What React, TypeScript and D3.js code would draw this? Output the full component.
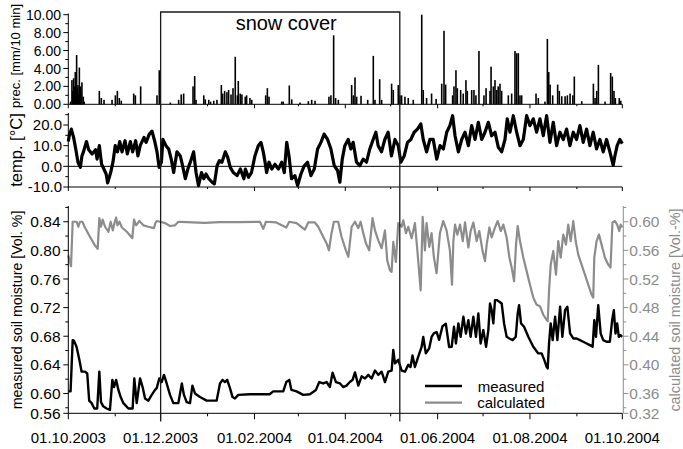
import React from 'react';
import * as d3 from 'd3';

// ---------- data ----------
const startLabel = '01.10.2003';
const endLabel = '01.10.2004';
const xTickLabels = ['01.10.2003', '01.12.2003', '01.02.2004', '01.04.2004', '01.06.2004', '01.08.2004', '01.10.2004'];
const snowCover = ['01.12.2003', '07.05.2004'];

const precTicks = [0, 2, 4, 6, 8, 10];
const precMinor = [1, 3, 5, 7, 9];
const tempTicks = [-10, 0, 10, 20];
const tempMinor = [-5, 5, 15, 25];
const measTicks = [0.56, 0.6, 0.64, 0.68, 0.72, 0.76, 0.8, 0.84];
const measMinor = [0.58, 0.62, 0.66, 0.7, 0.74, 0.78, 0.82, 0.86];
const calcTicks = [0.32, 0.36, 0.4, 0.44, 0.48, 0.52, 0.56, 0.6];
const calcMinor = [0.34, 0.38, 0.42, 0.46, 0.5, 0.54, 0.58, 0.62];

// precipitation [mm/10 min]; day = days after 01.10.2003
const precDay = [1.5, 2.4, 3, 3.5, 4, 4.6, 5, 5.5, 6, 6.4, 7, 7.3, 8, 8.2, 8.6, 9, 9.9, 10.5,
  20.5, 21.8, 23.6, 28.9, 31.1, 32.4, 33.7, 35, 43.2, 44.3, 47.8, 58.6, 60.1, 67.4, 72.9, 74.6, 76.2,
  82.4, 83.5, 84.4, 89.5, 90.5, 92.8, 94, 96.1, 98.2, 101.1, 102, 103.3, 104.8, 105.9, 107.5, 108.8,
  110.3, 111.7, 112.3, 113.6, 114.7, 116.9, 117.8, 120, 121.2, 130.4, 131.5, 132.6, 141, 142, 146,
  147.6, 153.1, 158.6, 160.8, 163, 172.2, 173.5, 175.3, 176.6, 178.4, 187.2, 188.3, 189.4, 190.5,
  193.4, 197.8, 201.5, 202.6, 205.7, 207, 213.6, 214.7, 218, 219.1, 220.2, 222.4, 224.6, 227.9,
  233.5, 234.5, 236.7, 240, 243, 246.7, 248.2, 249.3, 253.9, 254.8, 256.1, 257, 259.2, 260.9, 262.7,
  263.6, 266.5, 268, 269.3, 271.3, 274.6, 276, 278.6, 279.3, 280.8, 281.9, 283, 284, 285.2, 286.3,
  290.7, 292.9, 295.1, 296.2, 297.3, 298.4, 299.5, 309, 310.5, 314.9, 316.5, 317.4, 318.3, 320,
  323.3, 324.4, 326, 328.2, 329.7, 331.5, 333.3, 334.3, 339.2, 346.9, 348, 349.1, 350.2, 354.6,
  358.3, 359.4, 360.5, 361.4, 364, 365];
const precMm = [0.3, 2.7, 1.5, 2.9, 2.0, 3.6, 1.0, 5.5, 1.8, 2.15, 1.2, 4.1, 2.0, 1.4, 1.0, 2.45, 0.85, 0.3,
  1.5, 0.7, 0.5, 0.5, 1.0, 1.5, 0.7, 0.4, 1.2, 1.0, 2.0, 1.0, 3.8, 0.2, 0.5, 1.1, 1.2,
  2.0, 3.15, 0.5, 1.0, 0.55, 0.5, 0.3, 0.4, 0.5, 2.15, 1.2, 1.5, 1.35, 1.6, 1.1, 1.8,
  5.3, 1.0, 2.6, 1.2, 1.1, 0.85, 1.0, 0.7, 0.5, 1.0, 1.8, 0.85, 0.3, 0.3, 2.1,
  0.55, 0.2, 0.35, 0.5, 0.4, 0.85, 1.0, 7.7, 0.7, 0.5, 2.15, 1.0, 3.0, 0.85,
  0.95, 0.5, 5.4, 0.5, 2.8, 0.5, 2.3, 1.6, 2.15, 1.0, 1.0, 0.85, 0.7, 0.5,
  10.0, 1.6, 0.7, 1.2, 0.6, 2.3, 8.2, 2.2, 1.0, 2.0, 3.8, 1.8, 1.6, 1.2, 2.7,
  1.5, 1.6, 1.6, 1.0, 5.95, 1.0, 1.8, 1.5, 4.2, 2.0, 2.7, 1.6, 2.0, 2.3, 1.5,
  1.0, 1.2, 5.95, 5.7, 5.7, 1.0, 1.0, 1.2, 0.7, 0.3, 7.3, 3.6, 2.2, 1.0,
  2.2, 1.5, 0.9, 0.9, 1.0, 1.2, 1.0, 3.1, 0.35, 2.3, 0.7, 1.5, 4.4, 0.3,
  3.5, 3.1, 1.5, 0.7, 0.7, 0.4];

// air temperature [°C]
const tempDay = [0, 0.7, 2, 3.5, 5, 6.4, 8, 9, 10, 12, 13.5, 15.7, 18, 19, 20.5, 22, 23.5, 25, 26, 28, 29.5,
  31, 32.5, 34, 35.5, 37.5, 39, 41, 42.5, 44.5, 46, 47.5, 50, 51.4, 53.5, 55.3, 57, 58.6, 60, 61.5,
  62.5, 64.5, 66.3, 68, 69.6, 71.8, 74, 75.5, 77.3, 79, 81.3, 82.8, 84.4, 86, 88, 89.5, 91, 92.8, 95,
  96.5, 98.3, 99.8, 101.5, 103.7, 105.3, 107, 109, 111.5, 113.7, 116, 117, 119, 121, 123.3, 125.5,
  127.3, 128.8, 130, 131, 132.6, 134.4, 136.5, 138.8, 141, 142.7, 144.3, 145.8, 147.5, 149.7, 151.5,
  153.7, 155.9, 158, 160.3, 162.5, 164.7, 166.9, 169, 171.3, 173.5, 175.7, 177.9, 179.4, 181, 182.7,
  184.9, 186.7, 188.2, 190.4, 192.6, 194.8, 197, 199.2, 201.4, 203.2, 204.7, 206.9, 209.1, 211.3,
  213.5, 215.8, 218, 219.7, 221.9, 224.1, 226.3, 228.5, 230.7, 232.9, 234.5, 236.7, 238.9, 241.1,
  243.4, 245.6, 247.8, 250, 252.1, 253.9, 255.5, 257.7, 259.9, 262.1, 264.3, 266.5, 268.7, 270.9,
  273.1, 275.3, 277.5, 279.7, 281.9, 284.1, 286.3, 288.5, 290, 291.8, 294, 296.2, 298.4, 300.6,
  302.8, 305, 307.2, 309.4, 311.6, 313.8, 316, 318.2, 320.4, 322.6, 324.8, 327, 329.2, 331.4, 333.6,
  335.8, 338, 340.2, 342.4, 344.6, 346.8, 349, 351.2, 353.4, 355.6, 357.8, 360, 361.1, 362.6, 364.4, 366];
const tempC = [12, 15, 18, 14, 8, 2, -0.5, 5, 7, 12, 8, 6, 8, 3.5, 10, 1, -1.3, -3.7, -8, -3, 2,
  10, 7, 12, 7, 12.4, 6, 12, 7, 12.4, 5, 10, 14, 11.6, 15.6, 17, 12.4, 7, -0.5, 2,
  13, 10, 8.4, 3.5, -3, 7, 5, 0.3, -6, -1.3, 3.5, 7, -3, -9.3, -3, -6, -3.7, -6, -7.7,
  -8.5, 0.3, 2.7, 2, 7, 4.4, -0.5, -3, -4.5, -1.3, -6, -1.3, -5.3, -3, 5, 10,
  11.6, 7, 2, -3, 2, -1.3, 1, -1.3, 2, -3, 11.6, 5, -6, -4.5, -9.3,
  -3.7, 0.3, 2, -4.5, -1.3, 8.4, 11.6, 15.6, 13, 8.4, 0.3, -2, -7.7, 3.5, 10,
  13, 8.4, 11.6, 2, 0.3, 3.5, 2, 8.4, 13, 16.5, 10, 7, 13, 16.5,
  5, 13, 10, 2, 5, 11.6, 13, 16.5, 18, 20.5, 13, 7, 13, 13,
  3.5, 10, 8.4, 16.5, 19.7, 24.5, 14.8, 7, 13, 16.5, 10, 19.7, 13, 21.3,
  13, 16.5, 21.3, 14.8, 16.5, 9.2, 7, 13, 23, 16.5, 24.5, 16.5, 10, 13,
  24.5, 19.7, 23, 16.5, 23, 14.8, 24.5, 11.6, 21.3, 10, 16.5, 13, 18, 10, 16.5,
  13, 19.7, 11.6, 18, 10, 16.5, 8.4, 13, 7, 13, 7, 0.5, 5, 10, 13, 11];

// measured soil moisture [Vol. %]
const measDay = [0, 1.5, 2.9, 3.8, 5.5, 7.3, 8.8, 11, 12.5, 13.8, 15.4, 17.2, 19.1, 20.5, 21.6, 23.1, 25.3,
  27.5, 29.1, 30.2, 31.6, 33.1, 34.6, 36.4, 39.7, 42.5, 43.6, 45.2, 47.4, 49.1, 50.7, 52.9, 55.1, 57.3,
  58.4, 60.1, 61.7, 63.2, 65, 67.2, 69.4, 72.7, 75, 76.4, 78.2, 80.4, 82, 83.7, 87, 91.4, 95.8, 98,
  100.2, 101.9, 103.5, 105, 106.8, 108.5, 110.1, 112.3, 120, 133, 135.4, 142, 144, 146, 147.4, 150.8,
  155.2, 159.6, 163.6, 165.8, 168.4, 170.6, 172.8, 174.6, 176.8, 179.5, 181.6, 183.8, 186, 187.8,
  189.4, 191.6, 193.8, 196, 198.2, 200.4, 202.6, 204.8, 207, 209.2, 211.4, 213.6, 214.7, 215.8, 218,
  220.2, 222.4, 224.6, 226.1, 227.4, 229, 231.2, 233.4, 234.5, 236.2, 238.4, 240, 241.5, 243.3, 245,
  247.2, 249.4, 251.6, 253.3, 254.8, 256.1, 257.7, 259.2, 261, 262.7, 264.3, 265.8, 267.6, 269.3,
  270.9, 272.4, 274.2, 276, 277.5, 278.6, 279.7, 280.8, 281.9, 283, 284.8, 286.3, 287.9, 289.6, 291.4,
  293.6, 295.6, 296.9, 297.8, 299.1, 301.1, 303.9, 307.2, 310.5, 312.7, 314.5, 316, 316.7, 317.6,
  318.7, 320, 321.6, 323.1, 324.9, 326.4, 328.2, 329.7, 331.5, 333.6, 335.8, 338, 340.2, 342.4,
  344.6, 346.4, 347.5, 348.6, 350.1, 351.7, 353.4, 355.6, 357.8, 359.3, 360.4, 361.5, 362.6, 363.7,
  364.8, 365.9];
const measVal = [0.603, 0.603, 0.6745, 0.6735, 0.665, 0.647, 0.6305, 0.6305, 0.628, 0.59, 0.5865, 0.579, 0.579,
  0.6305, 0.588, 0.582, 0.579, 0.577, 0.619, 0.609, 0.619, 0.605, 0.595, 0.5865, 0.579, 0.579, 0.621,
  0.5865, 0.621, 0.609, 0.593, 0.59, 0.598, 0.605, 0.6075, 0.621, 0.616, 0.626, 0.614, 0.598, 0.5865,
  0.5865, 0.614, 0.598, 0.588, 0.5865, 0.611, 0.6, 0.595, 0.59, 0.59, 0.59, 0.614, 0.619, 0.616, 0.619,
  0.6075, 0.595, 0.593, 0.598, 0.599, 0.599, 0.603, 0.603, 0.616, 0.619, 0.605, 0.603, 0.598, 0.599,
  0.605, 0.616, 0.614, 0.616, 0.609, 0.629, 0.616, 0.614, 0.609, 0.611, 0.616, 0.619, 0.6295, 0.611,
  0.624, 0.621, 0.626, 0.621, 0.632, 0.626, 0.6305, 0.616, 0.6305, 0.632, 0.661, 0.642, 0.647, 0.632,
  0.6305, 0.64, 0.637, 0.653, 0.637, 0.6515, 0.665, 0.679, 0.656, 0.663, 0.679, 0.684, 0.686, 0.675,
  0.694, 0.6975, 0.665, 0.6653, 0.6932, 0.6699, 0.6979, 0.6792, 0.7072, 0.6839, 0.7025, 0.6792, 0.7072,
  0.6792, 0.7119, 0.6699, 0.6886, 0.6653, 0.6886, 0.7258, 0.7165, 0.6979, 0.7305, 0.7305, 0.7282,
  0.7258, 0.6979, 0.6792, 0.6769, 0.6746, 0.6792, 0.7119, 0.7235, 0.6979, 0.6932, 0.6792, 0.6653,
  0.656, 0.656, 0.6466, 0.6373, 0.635, 0.6699, 0.6979, 0.6746, 0.7072, 0.6746, 0.7212, 0.6792, 0.7165,
  0.7212, 0.6839, 0.6769, 0.6769, 0.6746, 0.6723, 0.6699, 0.6676, 0.6653, 0.7025, 0.6792, 0.7235,
  0.6839, 0.6746, 0.6723, 0.6723, 0.7025, 0.7165, 0.6839, 0.6979, 0.6792, 0.6816, 0.6792];

// calculated soil moisture [Vol.-%]
const calcDay = [0, 1, 1.8, 2.9, 5.5, 6.6, 7.7, 9.3, 11, 14.3, 17.6, 19.4, 20.5, 21.6, 22.7, 24.3, 26.5, 28,
  29.4, 30.5, 31.6, 32.5, 33.8, 35.4, 38.7, 42.3, 43.4, 44.8, 47, 49.6, 52.9, 56.6, 57.5, 58.4, 60.6,
  64, 67.2, 70.5, 72.7, 78, 90, 100, 113, 126.6, 128.8, 130.6, 137.4, 144, 146, 150.8, 156.3, 158.5,
  162.9, 165.1, 168.4, 170.6, 172.2, 173.9, 175.5, 178.3, 180.5, 183.4, 185, 187.2, 189.4, 191.6, 193.1,
  194.9, 196.6, 198.8, 201, 202.6, 204.8, 207, 209.2, 210.7, 212.5, 213.6, 214.7, 216.4, 218, 220.2,
  221.3, 223.1, 224.6, 226.8, 229, 230.6, 232.8, 234.1, 235.6, 236.7, 238.5, 240, 241.5, 243.3, 245.5,
  247.7, 249.9, 252.1, 253.5, 254.4, 255.5, 257, 258.8, 260.6, 262.1, 264.3, 265.8, 267.6, 269.8,
  271.5, 273.7, 275.3, 276.4, 278.2, 279.7, 281.9, 283.7, 285.7, 287.4, 289.6, 291.4, 292.9, 294.5,
  295.8, 296.9, 298.4, 300.6, 302.8, 305, 307.2, 309.4, 311.6, 313.8, 316, 316.7, 317.6, 318.7, 320.4,
  322.2, 323.7, 325.3, 327, 328.8, 330.3, 331.9, 333.6, 335.2, 336.9, 339.1, 341.3, 343.5, 345.7,
  346.8, 347.5, 349, 350.6, 352.3, 354.5, 356.7, 358.2, 359.5, 361.1, 362.6, 364, 364.9, 365.9];
const calcVal = [0.553, 0.544, 0.538, 0.6, 0.6, 0.593, 0.6, 0.6, 0.592, 0.579, 0.567, 0.562, 0.605, 0.593,
  0.603, 0.593, 0.586, 0.6, 0.588, 0.598, 0.606, 0.595, 0.6, 0.592, 0.586, 0.577, 0.603, 0.595, 0.601,
  0.595, 0.593, 0.591, 0.598, 0.601, 0.6, 0.598, 0.594, 0.595, 0.6, 0.5995, 0.5985, 0.5995, 0.5995,
  0.6, 0.59, 0.6, 0.599, 0.592, 0.6, 0.598, 0.589, 0.599, 0.599, 0.593, 0.579, 0.57, 0.56, 0.584, 0.6,
  0.6, 0.579, 0.56, 0.551, 0.593, 0.6, 0.591, 0.6, 0.584, 0.57, 0.56, 0.605, 0.588, 0.574, 0.563, 0.588,
  0.546, 0.532, 0.53, 0.572, 0.544, 0.598, 0.593, 0.602, 0.584, 0.593, 0.577, 0.598, 0.56, 0.504, 0.607,
  0.56, 0.598, 0.565, 0.584, 0.551, 0.528, 0.584, 0.601, 0.588, 0.56, 0.512, 0.573, 0.596, 0.582, 0.596,
  0.573, 0.599, 0.564, 0.587, 0.599, 0.573, 0.587, 0.559, 0.545, 0.568, 0.592, 0.578, 0.592, 0.601,
  0.587, 0.596, 0.578, 0.55, 0.536, 0.517, 0.568, 0.594, 0.573, 0.55, 0.531, 0.512, 0.494, 0.484, 0.482,
  0.47, 0.463, 0.461, 0.503, 0.54, 0.559, 0.526, 0.573, 0.55, 0.582, 0.568, 0.596, 0.573, 0.601, 0.573,
  0.554, 0.54, 0.526, 0.512, 0.498, 0.494, 0.55, 0.573, 0.582, 0.568, 0.55, 0.54, 0.536, 0.599, 0.601,
  0.596, 0.587, 0.596, 0.592];

// ---------- layout ----------
const W = 683;
const H = 449;
const FONT = 'Liberation Sans, Arial, Helvetica, sans-serif';
const GRAY = '#8c8c8c';

const parse = d3.timeParse('%d.%m.%Y');
const t0 = parse(startLabel) as Date;
const t1 = parse(endLabel) as Date;
const dayDate = (d: number) => new Date(t0.getTime() + d * 86400000);

export default function App() {
  const x = d3.scaleTime().domain([t0, t1]).range([68.3, 622.3]);
  const xl = 68.3;
  const xr = 622.3;

  const yP = d3.scaleLinear().domain([0, 10]).range([104.3, 14.7]);
  const yT = d3.scaleLinear().domain([-10, 20]).range([187, 125]);
  const yM = d3.scaleLinear().domain([0.5723, 0.862]).range([413.3, 206]).clamp(true);
  const yC = d3.scaleLinear().domain([0.3323, 0.622]).range([413.3, 206]).clamp(true);

  const majorDates = xTickLabels.map((s) => parse(s) as Date);
  const majorSet = new Set(majorDates.map((d) => d.getTime()));
  const minorDates = d3.timeMonth.range(t0, t1).filter((d) => !majorSet.has(d.getTime()));

  const tempLine = d3.line<number>().x((_, i) => x(dayDate(tempDay[i]))).y((v) => yT(v))(tempC) || '';
  const measLine = d3.line<number>().x((_, i) => x(dayDate(measDay[i]))).y((v) => yM(v))(measVal) || '';
  const calcLine = d3.line<number>().x((_, i) => x(dayDate(calcDay[i]))).y((v) => yC(v))(calcVal) || '';

  const xAxis = (y: number, maj: number, min: number, key: string) => (
    <g key={key}>
      <line x1={xl} x2={xr} y1={y} y2={y} stroke="#000" strokeWidth={1} />
      {majorDates.map((d, i) => (
        <line key={'M' + i} x1={x(d)} x2={x(d)} y1={y} y2={y + maj} stroke="#000" />
      ))}
      {minorDates.map((d, i) => (
        <line key={'m' + i} x1={x(d)} x2={x(d)} y1={y} y2={y + min} stroke="#000" />
      ))}
    </g>
  );

  const leftAxis = (
    scale: d3.ScaleLinear<number, number>,
    ticks: number[],
    minor: number[],
    top: number,
    bottom: number,
    fmt: (v: number) => string,
    fs: number,
    lx: number
  ) => (
    <g>
      <line x1={xl} x2={xl} y1={top} y2={bottom} stroke="#000" />
      {ticks.map((v, i) => (
        <g key={i}>
          <line x1={xl - 5} x2={xl} y1={scale(v)} y2={scale(v)} stroke="#000" />
          <text x={lx} y={scale(v)} dy="0.36em" textAnchor="end" fontSize={fs}>
            {fmt(v)}
          </text>
        </g>
      ))}
      {minor.map((v, i) => (
        <line key={'n' + i} x1={xl - 3} x2={xl} y1={scale(v)} y2={scale(v)} stroke="#000" />
      ))}
    </g>
  );

  const rx = 623.3;
  const sx0 = x(parse(snowCover[0]) as Date);
  const sx1 = x(parse(snowCover[1]) as Date);

  return (
    <svg
      width={W}
      height={H}
      style={{ position: 'absolute', left: 0, top: 0, background: '#fff' }}
      fontFamily={FONT}
    >
      <rect width={W} height={H} fill="#fff" />

      {/* precipitation panel */}
      {precDay.map((d, i) => {
        const cx = x(dayDate(d));
        return (
          <rect key={i} x={cx - 0.8} width={1.6} y={yP(precMm[i])} height={yP(0) - yP(precMm[i])} fill="#000" />
        );
      })}
      {xAxis(yP(0), 4, 2, 'xp')}
      {leftAxis(yP, precTicks, precMinor, 13.5, yP(0), (v) => v.toFixed(2), 14, 61)}
      <text transform={`translate(20,56) rotate(-90)`} textAnchor="middle" fontSize={13}>
        prec. [mm/10 min]
      </text>

      {/* temperature panel */}
      <line x1={xl} x2={xr} y1={yT(0)} y2={yT(0)} stroke="#000" strokeWidth={1} />
      <path d={tempLine} fill="none" stroke="#000" strokeWidth={3.2} strokeLinejoin="round" />
      {xAxis(yT(-10), 4, 2, 'xt')}
      {leftAxis(yT, tempTicks, tempMinor, 113, yT(-10), (v) => v.toFixed(1), 15, 62)}
      <text transform={`translate(22,150) rotate(-90)`} textAnchor="middle" fontSize={16.5}>
        temp. [°C]
      </text>

      {/* soil moisture panel */}
      <path d={calcLine} fill="none" stroke={GRAY} strokeWidth={2.2} strokeLinejoin="round" />
      <path d={measLine} fill="none" stroke="#000" strokeWidth={2.4} strokeLinejoin="round" />
      {xAxis(413.3, 6, 3, 'xb')}
      {leftAxis(yM, measTicks, measMinor, 206, 413.3, (v) => v.toFixed(2), 15.5, 60.5)}
      <text transform={`translate(22,310) rotate(-90)`} textAnchor="middle" fontSize={14.2}>
        measured soil moisture [Vol. %]
      </text>
      {majorDates.map((d, i) => (
        <text key={i} x={x(d)} y={443} textAnchor="middle" fontSize={15}>
          {xTickLabels[i]}
        </text>
      ))}

      {/* right axis */}
      <g>
        <line x1={rx} x2={rx} y1={206} y2={413.3} stroke={GRAY} />
        {calcTicks.map((v, i) => (
          <g key={i}>
            <line x1={rx} x2={rx + 5} y1={yC(v)} y2={yC(v)} stroke={GRAY} />
            <text x={rx + 6} y={yC(v)} dy="0.36em" fontSize={15.5} fill={GRAY}>
              {v.toFixed(2)}
            </text>
          </g>
        ))}
        {calcMinor.map((v, i) => (
          <line key={'c' + i} x1={rx} x2={rx + 3} y1={yC(v)} y2={yC(v)} stroke={GRAY} />
        ))}
        <text transform={`translate(680,310) rotate(-90)`} textAnchor="middle" fontSize={14.4} fill={GRAY}>
          calculated soil moisture [Vol.-%]
        </text>
      </g>

      {/* snow cover box */}
      <path
        d={`M${sx0},421.5V12H${sx1}V421.5`}
        fill="none"
        stroke="#1a1a1a"
        strokeWidth={1.3}
      />
      <text x={(sx0 + sx1) / 2 + 6} y={30} textAnchor="middle" fontSize={20}>
        snow cover
      </text>

      {/* legend */}
      <line x1={425} x2={462} y1={386} y2={386} stroke="#000" strokeWidth={2.4} />
      <line x1={425} x2={462} y1={402.7} y2={402.7} stroke={GRAY} strokeWidth={2.2} />
      <text x={511} y={391.5} textAnchor="middle" fontSize={15}>
        measured
      </text>
      <text x={511} y={408} textAnchor="middle" fontSize={15}>
        calculated
      </text>
    </svg>
  );
}
